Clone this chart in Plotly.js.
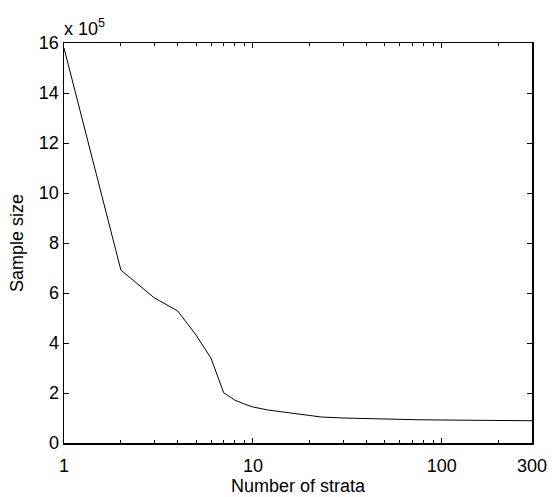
<!DOCTYPE html>
<html>
<head>
<meta charset="utf-8">
<script src="https://cdn.plot.ly/plotly-3.0.1.min.js"></script>
<style>html,body{margin:0;padding:0;background:#fff;}#chart{width:552px;height:497px;}</style>
</head>
<body>
<div id="chart"></div>
<script>
// Number of strata (x) and sample size in units of 1e5 (y)
var strata = [1, 2, 3, 4, 5, 6, 7, 8, 9, 10, 12, 15, 18, 20, 23, 30, 40, 50, 75, 100, 150, 200, 300];
var sampleSize = [15.8, 6.92, 5.81, 5.28, 4.32, 3.39, 2.01, 1.72, 1.56, 1.44, 1.32, 1.22, 1.15, 1.10, 1.04, 1.00, 0.97, 0.95, 0.93, 0.92, 0.90, 0.89, 0.89];
var xTickVals = [1, 10, 100, 300];
var xTickText = ['1', '10', '100', '300'];
var xMinorVals = [2, 3, 4, 5, 6, 7, 8, 9, 20, 30, 40, 50, 60, 70, 80, 90, 200];
var yTickVals = [0, 2, 4, 6, 8, 10, 12, 14, 16];

var font = {family: 'Liberation Sans, Arial, sans-serif', size: 18, color: '#000'};

Plotly.newPlot('chart', [{
  x: strata, y: sampleSize, type: 'scatter', mode: 'lines',
  line: {color: '#000', width: 1}, hoverinfo: 'skip'
}], {
  width: 552, height: 497,
  margin: {l: 64, r: 20, t: 43, b: 54},
  paper_bgcolor: '#fff', plot_bgcolor: '#fff',
  font: font,
  showlegend: false,
  xaxis: {
    type: 'log', range: [0, Math.log10(300)],
    tickmode: 'array', tickvals: xTickVals, ticktext: xTickText,
    ticks: 'inside', ticklen: 5, tickwidth: 1, tickcolor: '#000',
    ticklabelstandoff: 6,
    minor: {tickmode: 'array', tickvals: xMinorVals, ticks: 'inside', ticklen: 3, tickcolor: '#000', showgrid: false},
    showline: true, linecolor: '#000', linewidth: 1.5, mirror: 'ticks',
    showgrid: false, zeroline: false,
    tickfont: font,
    title: {text: 'Number of strata', font: font, standoff: 4}
  },
  yaxis: {
    range: [0, 16],
    tickmode: 'array', tickvals: yTickVals,
    ticks: 'inside', ticklen: 5, tickwidth: 1, tickcolor: '#000',
    showline: true, linecolor: '#000', linewidth: 1.5, mirror: 'ticks',
    showgrid: false, zeroline: false,
    tickfont: font,
    title: {text: 'Sample size', font: font, standoff: 10}
  },
  annotations: [{
    text: 'x 10<sup>5</sup>', xref: 'paper', yref: 'paper', x: 0, y: 1,
    xanchor: 'left', yanchor: 'bottom', yshift: 2, xshift: -2, showarrow: false, font: font
  }]
}, {staticPlot: true, displayModeBar: false});
</script>
</body>
</html>
